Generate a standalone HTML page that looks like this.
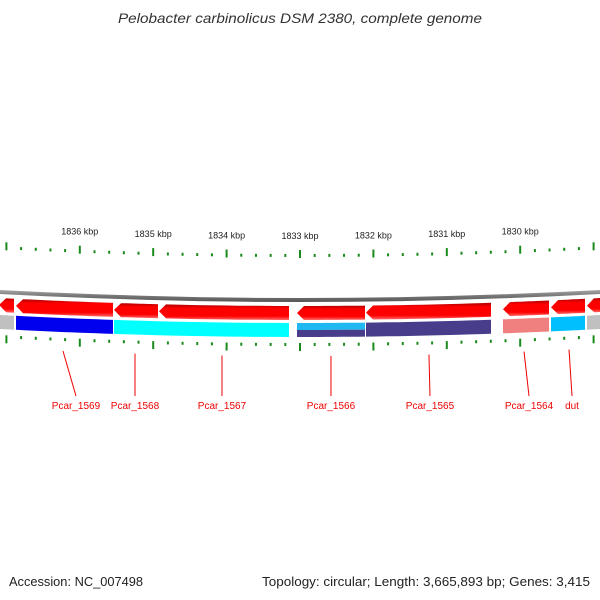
<!DOCTYPE html>
<html><head><meta charset="utf-8"><style>
html,body{margin:0;padding:0;background:#fff}
svg{display:block;font-family:"Liberation Sans","DejaVu Sans",sans-serif}
</style></head><body>
<svg id="chart" width="600" height="600" viewBox="0 0 600 600">
<defs>
<linearGradient id="gRed" x1="0" y1="0" x2="0" y2="1"><stop offset="0" stop-color="#b00000"/><stop offset="0.25" stop-color="#ff0000"/><stop offset="0.75" stop-color="#ff0000"/><stop offset="1" stop-color="#ff6a6a"/></linearGradient>
<linearGradient id="gArc" x1="0" y1="0" x2="0" y2="1"><stop offset="0" stop-color="#aaa"/><stop offset="0.5" stop-color="#777"/><stop offset="1" stop-color="#555"/></linearGradient>
</defs>
<text x="300" y="23" text-anchor="middle" font-size="14" font-style="italic" fill="#333" textLength="364" lengthAdjust="spacingAndGlyphs">Pelobacter carbinolicus DSM 2380, complete genome</text>
<text x="9" y="586" font-size="13" fill="#222" textLength="134" lengthAdjust="spacingAndGlyphs">Accession: NC_007498</text>
<text x="262" y="586" font-size="13" fill="#222" textLength="328" lengthAdjust="spacingAndGlyphs">Topology: circular; Length: 3,665,893 bp; Genes: 3,415</text>
<g id="layer"></g>
</svg>
<script>
const tickKbp = [1837, 1836, 1835, 1834, 1833, 1832, 1831, 1830, 1829];
const tickLabels = ['1836 kbp','1835 kbp','1834 kbp','1833 kbp','1832 kbp','1831 kbp','1830 kbp'];
const labelKbp = [1836, 1835, 1834, 1833, 1832, 1831, 1830];
const topStarts = [1837.10, 1836.869, 1835.534, 1834.921, 1833.041, 1832.101, 1830.234, 1829.580, 1829.090];
const topEnds   = [1836.896, 1835.548, 1834.935, 1833.150, 1832.114, 1830.398, 1829.608, 1829.117, 1828.90];
const botStarts = [1837.10, 1836.869, 1835.534, 1833.041, 1832.101, 1830.234, 1829.580, 1829.090];
const botEnds   = [1836.896, 1835.548, 1833.150, 1832.114, 1830.398, 1829.608, 1829.117, 1828.90];
const botColors = ['#c0c0c0', '#0000ee', '#00ffff', 'split', '#483d8b', '#f08080', '#00bfff', '#c0c0c0'];
const geneNames = ['Pcar_1569','Pcar_1568','Pcar_1567','Pcar_1566','Pcar_1565','Pcar_1564','dut'];
const geneAnchorKbp = [1836.229, 1835.248, 1834.063, 1832.578, 1831.243, 1829.948, 1829.335];
const geneLabelKbp = [1836.052, 1835.248, 1834.063, 1832.578, 1831.229, 1829.880, 1829.294];

const NS='http://www.w3.org/2000/svg';
const layer=document.getElementById('layer');
const X = k => 300 - (k - 1833) * 73.4;
const curve = x => 0.0000889 * (x - 300) * (x - 300);
const Y = (x, base) => base - curve(x);
function mk(tag, attrs){const e=document.createElementNS(NS,tag);for(const a in attrs)e.setAttribute(a,attrs[a]);layer.appendChild(e);return e;}
function band(x1,x2,y1,y2,tipLeft){
  const pts=[];const n=12;const a=tipLeft?x1+7:x1;
  for(let i=0;i<=n;i++){const x=a+(x2-a)*i/n;pts.push([x,Y(x,y1)]);}
  for(let i=n;i>=0;i--){const x=a+(x2-a)*i/n;pts.push([x,Y(x,y2)]);}
  if(tipLeft){pts.push([x1,Y(x1,(y1+y2)/2)]);}
  return pts.map(p=>p[0].toFixed(1)+','+p[1].toFixed(1)).join(' ');
}
const arc=mk('polygon',{points:band(-5,605,298,302,false),fill:'url(#gArc)'});


for(let k=1837.2;k>=1828.8;k-=0.2){
  const kr=Math.round(k*5)/5;const x=X(kr);if(x<0||x>600)continue;
  const major=Math.abs(kr-Math.round(kr))<0.01;
  const t1=mk('rect',{x:x-1,y:Y(x,major?250:254),width:2,height:major?8:3,fill:'#1a8a1a'});
  
  
  const t2=mk('rect',{x:x-1,y:Y(x,343),width:2,height:major?8:3,fill:'#1a8a1a'});
  
  
}
tickLabels.forEach((l,i)=>{const x=X(labelKbp[i]);
  const t=mk('text',{x:x,y:Y(x,239),'text-anchor':'middle','font-size':'9',fill:'#222'});t.textContent=l;
  
  });
topStarts.forEach((s,i)=>{const x1=X(s),x2=X(topEnds[i]);
  const p=mk('polygon',{points:band(Math.min(x1,x2),Math.max(x1,x2),306,320,true),fill:'url(#gRed)'});
  
  });
botStarts.forEach((s,i)=>{const x1=X(s),x2=X(botEnds[i]);const a=Math.min(x1,x2),b=Math.max(x1,x2);
  if(botColors[i]==='split'){
    let p=mk('polygon',{points:band(a,b,323,330,false),fill:'#1fb8f0'});
    
    
    p=mk('polygon',{points:band(a,b,330,337,false),fill:'#483d8b'});
    
    
  } else {
    const p=mk('polygon',{points:band(a,b,323,337,false),fill:botColors[i]});
    
    
  }});
geneNames.forEach((n,i)=>{const xa=X(geneAnchorKbp[i]),xl=X(geneLabelKbp[i]);
  const ln=mk('line',{x1:xa,y1:Y(xa,356),x2:xl,y2:396,stroke:'#e00',"stroke-width":1});
  
  
  const t=mk('text',{x:xl,y:409,'text-anchor':'middle','font-size':'10',fill:'#e00'});t.textContent=n;
  
  });
</script>
</body></html>
